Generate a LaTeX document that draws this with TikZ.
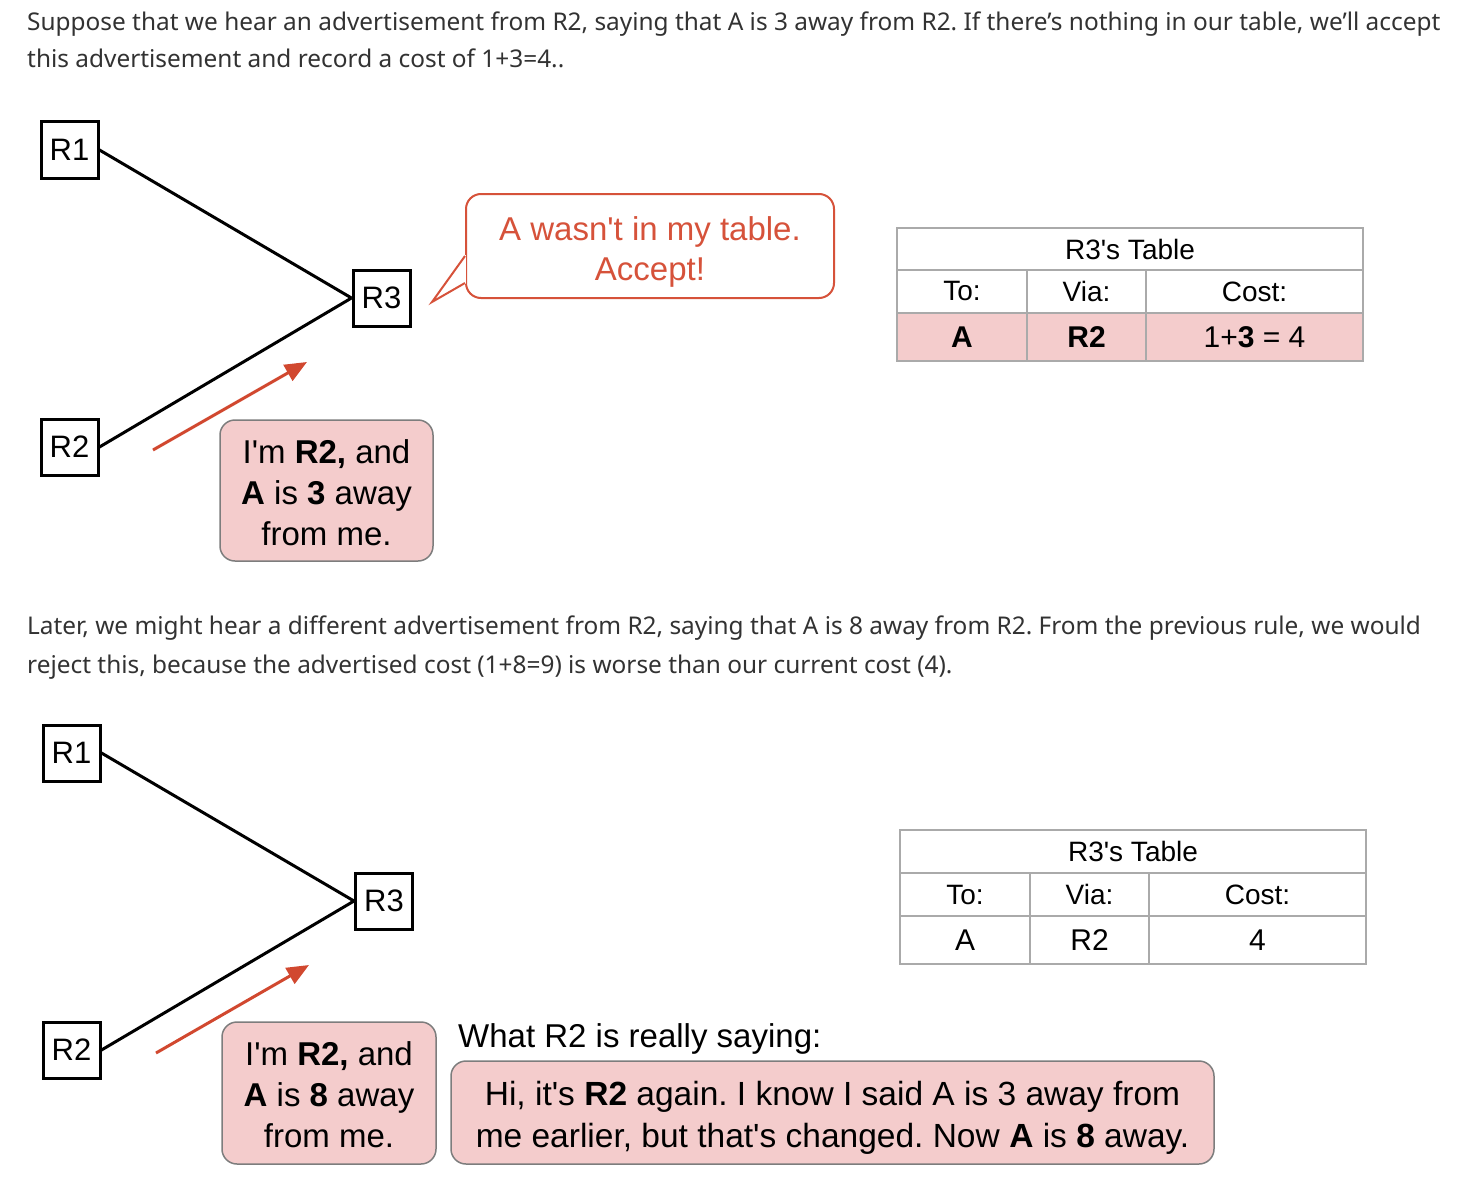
\documentclass[tikz,border=0pt]{standalone}
\usepackage{fontspec}
\setmainfont{Liberation Sans}
\newfontfamily\parafont{Noto Sans}
\usetikzlibrary{arrows.meta,calc}
\definecolor{pinkfill}{RGB}{244,204,204}
\definecolor{pinkline}{RGB}{125,125,125}
\definecolor{advred}{RGB}{209,72,47}
\definecolor{sayred}{RGB}{214,82,58}
\definecolor{gridgrey}{RGB}{170,170,170}
\definecolor{paratext}{RGB}{50,50,50}
\newcommand{\ap}{\textquotesingle}
\newcommand{\tallstrut}{\rule{0pt}{35pt}}
\frenchspacing

\begin{document}
\begin{tikzpicture}[x=1pt,y=-1pt]
				\tikzstyle{every node}=[inner sep=0pt]
				\tikzstyle{para}=[anchor=base west,text=paratext,font=\parafont\fontsize{24.4}{30}\selectfont]
				\tikzstyle{router}=[draw,line width=3pt,minimum width=57,minimum height=56,font=\fontsize{31}{36}\selectfont]
				\tikzstyle{link}=[line width=3pt]
				\tikzstyle{adv}=[advred,line width=3pt,-{Triangle[length=22pt,width=18pt]}]
				\tikzstyle{msgbox}=[draw=pinkline,line width=1.5pt,fill=pinkfill,rounded corners=15pt,align=center,font=\fontsize{33}{41}\selectfont]
				\tikzstyle{saybox}=[draw=sayred,line width=2pt,fill=white,rounded corners=15pt,align=center,text=sayred,font=\fontsize{33}{40}\selectfont]
				\tikzstyle{cell}=[draw=gridgrey,line width=2pt,font=\fontsize{28}{32}\selectfont]
				\tikzstyle{valcell}=[cell,font=\fontsize{30}{34}\selectfont]
				\useasboundingbox (0,0) rectangle (1458,1188);
				\node[para] (p1a) at (27,31) {Suppose that we hear an advertisement from R2, saying that A is 3 away from R2. If there’s nothing in our table, we’ll accept};
				\node[para] (p1b) at (27,68) {this advertisement and record a cost of 1+3=4..};
				\node[router] (r1) at (69.5,150) {R1};
				\node[router] (r3) at (381.5,298) {R3};
				\node[router] (r2) at (69.5,447) {R2};
				\draw[link] (r1.east) -- (r3.west);
				\draw[link] (r2.east) -- (r3.west);
				\coordinate (a1s) at (153,450);
				\coordinate (a1e) at (307,362);
				\draw[adv] (a1s) -- (a1e);
				\node[msgbox,minimum width=213,minimum height=141] (m1) at (326.5,490.5) {\rule{0pt}{28pt}I\ap m \textbf{R2,} and\\\textbf{A} is \textbf{3} away\\from me.};
				\node[saybox,minimum width=368,minimum height=104] (s1) at (650,246) {\tallstrut A wasn\ap t in my table.\\Accept!};
				\coordinate (tip1) at (432,302);
				\fill[white] ($(s1.south west)+(-1,-44)$) rectangle ($(s1.south west)+(1,-15)$);
				\draw[sayred,line width=2pt,line join=miter] ($(s1.south west)+(0,-43)$) -- (tip1) -- ($(s1.south west)+(0,-16)$);
				\node[cell,minimum width=466,minimum height=42] (t1h) at (1130,249) {R3\ap s Table};
				\node[cell,minimum width=130,minimum height=43] (t1to) at (962,291.5) {To:};
				\node[cell,minimum width=119,minimum height=43] (t1via) at (1086.5,291.5) {Via:};
				\node[cell,minimum width=217,minimum height=43] (t1cost) at (1254.5,291.5) {Cost:};
				\node[valcell,fill=pinkfill,minimum width=130,minimum height=48] (t1a) at (962,337) {\textbf{A}};
				\node[valcell,fill=pinkfill,minimum width=119,minimum height=48] (t1r) at (1086.5,337) {\textbf{R2}};
				\node[valcell,fill=pinkfill,minimum width=217,minimum height=48] (t1c) at (1254.5,337) {1+\textbf{3} = 4};
				\node[para] (p2a) at (27,634) {Later, we might hear a different advertisement from R2, saying that A is 8 away from R2. From the previous rule, we would};
				\node[para] (p2b) at (27,673) {reject this, because the advertised cost (1+8=9) is worse than our current cost (4).};
				\node[router] (q1) at (71.5,753) {R1};
				\node[router] (q3) at (384,901) {R3};
				\node[router] (q2) at (71.5,1050) {R2};
				\draw[link] (q1.east) -- (q3.west);
				\draw[link] (q2.east) -- (q3.west);
				\coordinate (a2s) at (156,1053);
				\coordinate (a2e) at (309,965);
				\draw[adv] (a2s) -- (a2e);
				\node[msgbox,minimum width=214,minimum height=142] (m2) at (329,1093) {\rule{0pt}{28pt}I\ap m \textbf{R2,} and\\\textbf{A} is \textbf{8} away\\from me.};
				\node[anchor=base west,font=\fontsize{33}{40}\selectfont] (really) at (458,1047) {What R2 is really saying:};
				\node[msgbox,minimum width=763,minimum height=103,font=\fontsize{33.5}{42}\selectfont] (m3) at (832.5,1112.5) {\tallstrut Hi, it\ap s \textbf{R2} again. I know I said A is 3 away from\\me earlier, but that\ap s changed. Now \textbf{A} is \textbf{8} away.};
				\node[cell,minimum width=466,minimum height=43] (t2h) at (1133,851.5) {R3\ap s Table};
				\node[cell,minimum width=130,minimum height=43] (t2to) at (965,894.5) {To:};
				\node[cell,minimum width=119,minimum height=43] (t2via) at (1089.5,894.5) {Via:};
				\node[cell,minimum width=217,minimum height=43] (t2cost) at (1257.5,894.5) {Cost:};
				\node[valcell,minimum width=130,minimum height=48] (t2a) at (965,940) {A};
				\node[valcell,minimum width=119,minimum height=48] (t2r) at (1089.5,940) {R2};
				\node[valcell,minimum width=217,minimum height=48] (t2c) at (1257.5,940) {4};
\end{tikzpicture}
\end{document}
